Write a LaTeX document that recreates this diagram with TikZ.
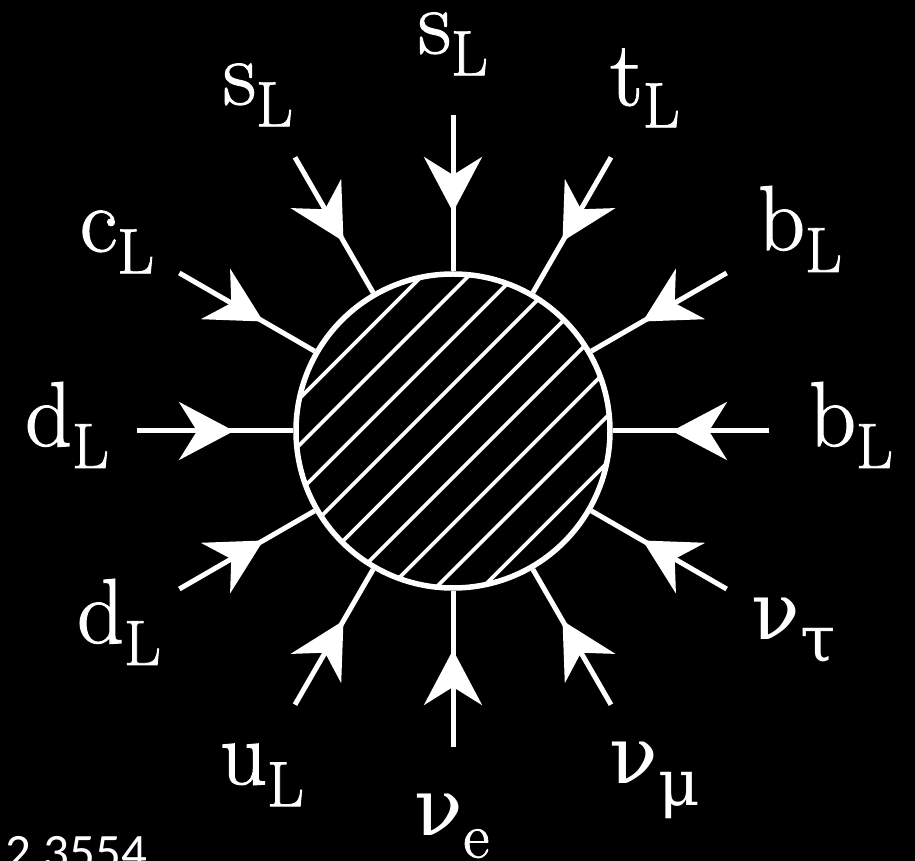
\documentclass[tikz,border=0pt]{standalone}
\usepackage{fontspec}
\newfontfamily\labfont{Latin Modern Roman}[FakeBold=1.3]
\newfontfamily\grfont{DejaVu Serif}
\newfontfamily\figfont{Carlito}
\usetikzlibrary{arrows.meta, decorations.markings}

% quark / lepton with a lowered index
\newcommand{\flav}[2]{#1\raisebox{-22pt}{\fontsize{64}{64}\selectfont #2}}
\newcommand{\nuflav}[1]{{\grfont\fontsize{80}{80}\selectfont ν}\raisebox{-22pt}{\fontsize{64}{64}\selectfont #1}}

\begin{document}
\begin{tikzpicture}[x=1pt, y=1pt, white,
  leg/.style={line width=5pt, postaction={decorate, decoration={markings,
    mark=at position 97pt with {\arrow{Stealth[length=55pt, width=58pt, inset=18pt]}}}}},
  hatch/.style={line width=3.8pt},
  lab/.style={font=\labfont\fontsize{92}{92}\selectfont, inner sep=0pt}]
  \useasboundingbox (-453,-430) rectangle (462,431);
  \fill[black] (-453,-430) rectangle (462,431);
  \clip (-453,-430) rectangle (462,431);
  % hatched blob
  \begin{scope}
    \clip (0,0) circle (157);
    \foreach \k in {-4,...,4}
      \draw[hatch] (\k*23.25-200, -\k*23.25-200) -- ++(400,400);
  \end{scope}
  \node[circle, draw, line width=5.5pt, minimum size=314pt, inner sep=0pt] (blob) at (0,0) {};
  % twelve legs, all pointing in
  \foreach \a in {0,30,...,330} {
    \coordinate (o\a) at (\a:316);
    \draw[leg] (o\a) -- (blob.\a);
  }
  \node[lab] (bR)   at (398,6)     {\flav{b}{L}};
  \node[lab] (bUp)  at (347,202)   {\flav{b}{L}};
  \node[lab] (tL)   at (192,343)   {\flav{t}{L}};
  \node[lab] (sTop) at (0,387)     {\flav{s}{L}};
  \node[lab] (sL)   at (-195,336)  {\flav{s}{L}};
  \node[lab] (cL)   at (-336,189)  {\flav{c}{L}};
  \node[lab] (dL)   at (-386,6)    {\flav{d}{L}};
  \node[lab] (dLo)  at (-334,-191) {\flav{d}{L}};
  \node[lab] (uL)   at (-191,-344) {\flav{u}{L}};
  \node[lab] (nue)  at (-1,-395)   {\nuflav{e}};
  \node[lab] (num)  at (202,-349)  {\nuflav{\grfont μ}};
  \node[lab] (nut)  at (341,-200)  {\nuflav{\grfont τ}};
  \node[anchor=base west, inner sep=0pt, font=\figfont\fontsize{51}{51}\selectfont] (fig) at (-448,-438) {2.3554};
\end{tikzpicture}
\end{document}
